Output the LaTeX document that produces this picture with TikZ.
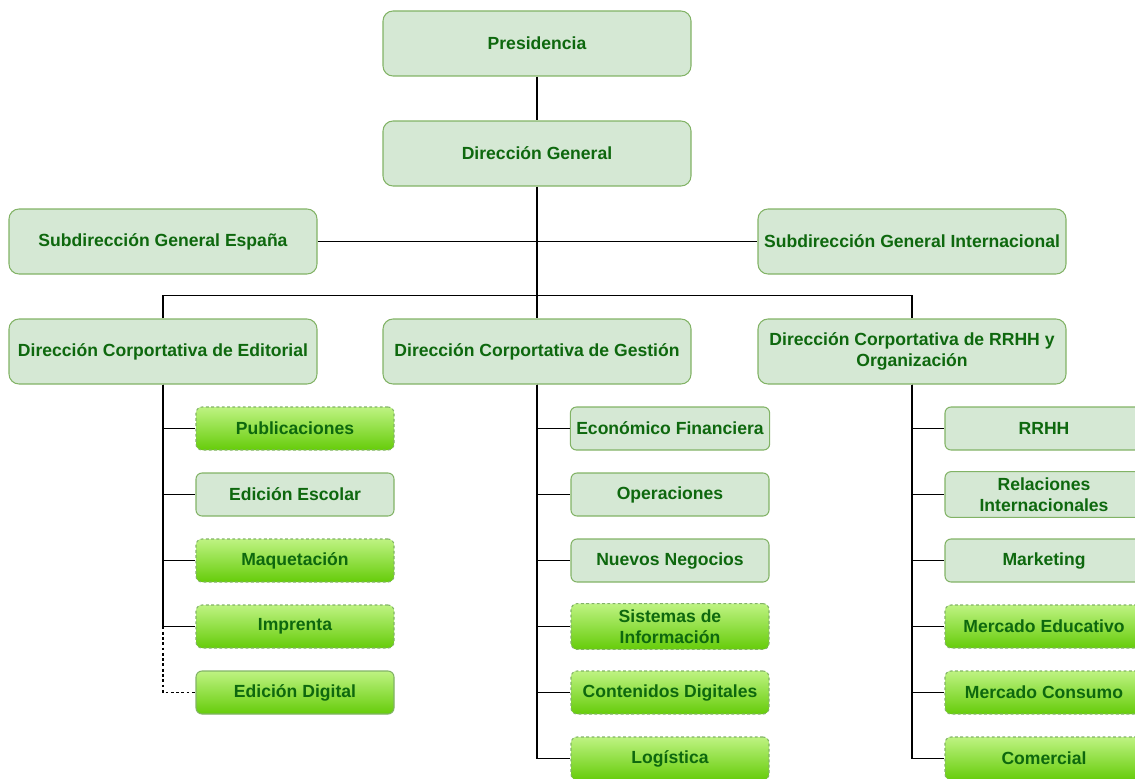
\documentclass[tikz,border=0pt]{standalone}
\usepackage{fontspec}
\setmainfont{Liberation Sans}
\usetikzlibrary{positioning, shapes.geometric, arrows}

\definecolor{palefill}{RGB}{213,232,212}
\definecolor{paledraw}{RGB}{130,179,102}
\definecolor{txtgreen}{RGB}{14,104,14}
\definecolor{gtop}{RGB}{190,243,130}
\definecolor{gbottom}{RGB}{102,204,10}

\tikzstyle{unit} = [rectangle, rounded corners=0.2cm,
minimum width=6.16cm,
minimum height=1.3cm,
text centered,
align=center,
draw=paledraw,
line width=0.6pt,
fill=palefill,
text=txtgreen,
font=\fontsize{10}{12}\selectfont\bfseries]
\tikzstyle{area} = [unit, rounded corners=0.12cm,
minimum width=3.96cm,
minimum height=0.86cm]
\tikzstyle{newarea} = [area,
top color=gtop,
bottom color=gbottom,
draw=paledraw,
dashed, dash pattern=on 1.6pt off 1.4pt]
\tikzstyle{digitalarea} = [area,
top color=gtop,
bottom color=gbottom,
draw=paledraw]
\tikzstyle{line} = [line width=0.6pt, draw=black]

\begin{document}
\begin{tikzpicture}[node distance=1.32cm]
\useasboundingbox (0,0) rectangle (22.7,-15.56);

% Top levels
\node (pres) [unit] at (10.74,-0.87) {Presidencia};

\node (dirgen) [unit, below of=pres, yshift=-0.88cm] {Dirección General};

\node (subesp) [unit, below of=dirgen, yshift=-0.44cm, xshift=-7.48cm] {Subdirección General España};

\node (subint) [unit, below of=dirgen, yshift=-0.44cm, xshift=7.5cm] {Subdirección General Internacional};

% Corporate directions
\node (dcgestion) [unit, below of=dirgen, yshift=-2.64cm] {Dirección Corportativa de Gestión};

\node (dceditorial) [unit, below of=subesp, yshift=-0.88cm] {Dirección Corportativa de Editorial};

\node (dcrrhh) [unit, below of=subint, yshift=-0.88cm] {Dirección Corportativa de RRHH y\\Organización};

\coordinate [above=0.46cm of dcgestion.north] (bus);

% Editorial areas
\node (publicaciones) [newarea, below of=dceditorial, yshift=-0.22cm, xshift=2.64cm] {Publicaciones};
\node (escolar) [area, below of=publicaciones] {Edición Escolar};
\node (maquetacion) [newarea, below of=escolar] {Maquetación};
\node (imprenta) [newarea, below of=maquetacion] {Imprenta};
\node (digital) [digitalarea, below of=imprenta] {Edición Digital};

% Gestion areas
\node (economico) [area, below of=dcgestion, yshift=-0.22cm, xshift=2.66cm] {Económico Financiera};
\node (operaciones) [area, below of=economico] {Operaciones};
\node (negocios) [area, below of=operaciones] {Nuevos Negocios};
\node (sistemas) [newarea, below of=negocios] {Sistemas de\\Información};
\node (contenidos) [newarea, below of=sistemas] {Contenidos Digitales};
\node (logistica) [newarea, below of=contenidos] {Logística};

% RRHH areas
\node (rrhh) [area, below of=dcrrhh, yshift=-0.22cm, xshift=2.64cm] {RRHH};
\node (relaciones) [area, below of=rrhh] {Relaciones\\Internacionales};
\node (marketing) [area, below of=relaciones] {Marketing};
\node (educativo) [newarea, below of=marketing] {Mercado Educativo};
\node (consumo) [newarea, below of=educativo] {Mercado Consumo};
\node (comercial) [newarea, below of=consumo] {Comercial};

% Connections
\draw [line] (pres) -- (dirgen);
\draw [line] (dirgen) -- (dcgestion);
\draw [line] (subesp) -- (subint);
\draw [line] (dceditorial.north) |- (bus) -| (dcrrhh.north);

\draw [line] (dceditorial.south) |- (publicaciones.west);
\draw [line] (dceditorial.south) |- (escolar.west);
\draw [line] (dceditorial.south) |- (maquetacion.west);
\draw [line] (dceditorial.south) |- (imprenta.west);
\draw [line, dashed, dash pattern=on 1.6pt off 1.4pt] (imprenta.west -| dceditorial.south) |- (digital.west);

\draw [line] (dcgestion.south) |- (economico.west);
\draw [line] (dcgestion.south) |- (operaciones.west);
\draw [line] (dcgestion.south) |- (negocios.west);
\draw [line] (dcgestion.south) |- (sistemas.west);
\draw [line] (dcgestion.south) |- (contenidos.west);
\draw [line] (dcgestion.south) |- (logistica.west);

\draw [line] (dcrrhh.south) |- (rrhh.west);
\draw [line] (dcrrhh.south) |- (relaciones.west);
\draw [line] (dcrrhh.south) |- (marketing.west);
\draw [line] (dcrrhh.south) |- (educativo.west);
\draw [line] (dcrrhh.south) |- (consumo.west);
\draw [line] (dcrrhh.south) |- (comercial.west);

\end{tikzpicture}
\end{document}
